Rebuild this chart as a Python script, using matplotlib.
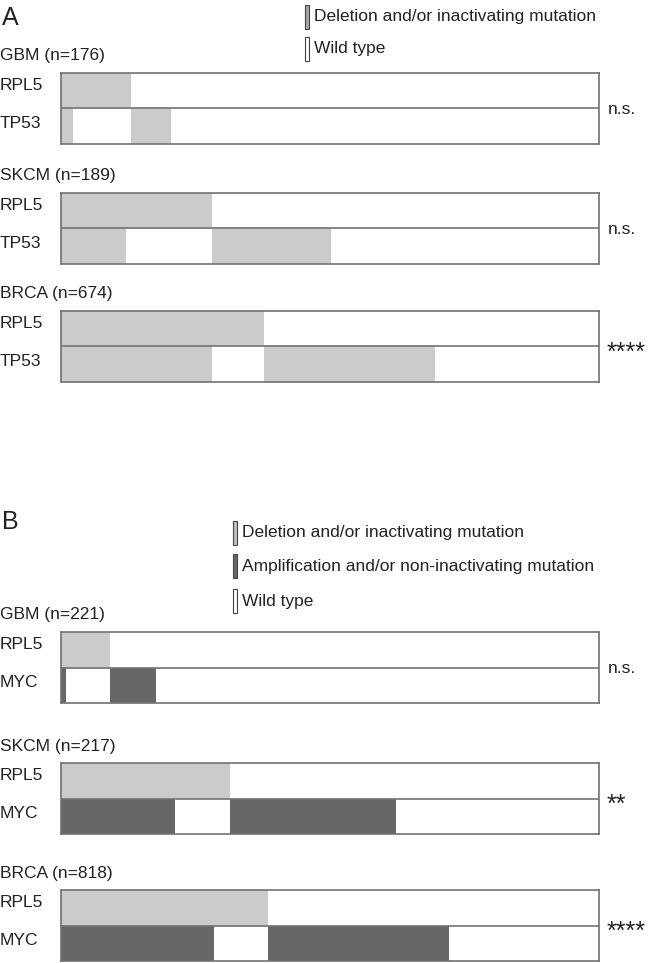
import numpy as np
import matplotlib
matplotlib.use("Agg")
import matplotlib.pyplot as plt
from matplotlib.patches import Rectangle

plt.rcParams['font.family'] = ['Liberation Sans', 'DejaVu Sans']

# Panel A: RPL5 vs TP53
cohorts_a = ["GBM", "SKCM", "BRCA"]
n_a = [176, 189, 674]
both_a = [4, 23, 189]          # RPL5 and TP53 altered
rpl5_only_a = [19, 30, 65]
tp53_only_a = [13, 42, 214]
sig_a = ["n.s.", "n.s.", "****"]

# Panel B: RPL5 vs MYC
cohorts_b = ["GBM", "SKCM", "BRCA"]
n_b = [221, 217, 818]
both_b = [2, 46, 233]          # RPL5 deleted and MYC amplified
rpl5_only_b = [18, 22, 82]
myc_only_b = [19, 67, 275]
sig_b = ["n.s.", "**", "****"]

LIGHT = "#cbcbcb"
DARK = "#676767"
EDGE = "#727272"
TXT = "#222222"
FS = 12.5

W, H = 650, 963
fig = plt.figure(figsize=(W / 100, H / 100), dpi=100)


def fx(x):
    return x / W


def fy(y):
    return 1 - y / H


def oncoprint(top, bottom, name, n, both, r_only, g_only, gene2, color2, sig):
    ax = fig.add_axes([fx(61), fy(bottom), fx(599) - fx(61), fy(top) - fy(bottom)])
    rpl5 = np.array([1] * (both + r_only) + [0] * (n - both - r_only))
    g2 = np.array([1] * both + [0] * r_only + [1] * g_only
                  + [0] * (n - both - r_only - g_only))
    idx = np.arange(n)
    ax.bar(idx[rpl5 == 1], 1, bottom=1, width=1, align='edge',
           color=LIGHT, linewidth=0)
    ax.bar(idx[g2 == 1], 1, bottom=0, width=1, align='edge',
           color=color2, linewidth=0)
    ax.set_xlim(0, n)
    ax.set_ylim(0, 2)
    ax.axhline(1, color=EDGE, lw=1.2)
    for s in ax.spines.values():
        s.set_color(EDGE)
        s.set_linewidth(1.2)
    ax.set_xticks([])
    ax.set_yticks([])

    fig.text(fx(0), fy(top - 17), f"{name} (n={n})", fontsize=FS,
             color=TXT, va='center', ha='left')
    mid = (top + bottom) / 2
    fig.text(fx(0), fy((top + mid) / 2 - 5), "RPL5", fontsize=FS,
             color=TXT, va='center', ha='left')
    fig.text(fx(0), fy((mid + bottom) / 2 - 3), gene2, fontsize=FS,
             color=TXT, va='center', ha='left')
    if "*" in sig:
        fig.text(fx(607), fy(mid + 6), sig, fontsize=18,
                 color=TXT, va='center', ha='left')
    else:
        fig.text(fx(608), fy(mid + 1), sig, fontsize=FS,
                 color=TXT, va='center', ha='left')


def legend_item(x, y, label, color):
    fig.patches.append(Rectangle((fx(x), fy(y + 12)), fx(4), 24 / H,
                                 transform=fig.transFigure, facecolor=color,
                                 edgecolor="#444444", linewidth=0.8))
    fig.text(fx(x + 9), fy(y), label, fontsize=FS, color=TXT,
             va='center', ha='left')


fig.text(fx(2), fy(18), "A", fontsize=18, color=TXT, va='center', ha='left')
legend_item(305, 17, "Deletion and/or inactivating mutation", "#a8a8a8")
legend_item(305, 49, "Wild type", "white")

tops_a = [72.7, 192.7, 310.7]
for i in range(3):
    oncoprint(tops_a[i], tops_a[i] + 71.5, cohorts_a[i], n_a[i], both_a[i],
              rpl5_only_a[i], tp53_only_a[i], "TP53", LIGHT, sig_a[i])

fig.text(fx(2), fy(522), "B", fontsize=18, color=TXT, va='center', ha='left')
legend_item(233, 533, "Deletion and/or inactivating mutation", "#c0c0c0")
legend_item(233, 566, "Amplification and/or non-inactivating mutation", DARK)
legend_item(233, 601, "Wild type", "white")

tops_b = [632, 763, 890]
for i in range(3):
    oncoprint(tops_b[i], tops_b[i] + 71, cohorts_b[i], n_b[i], both_b[i],
              rpl5_only_b[i], myc_only_b[i], "MYC", DARK, sig_b[i])

fig.savefig("out.png", dpi=100)
